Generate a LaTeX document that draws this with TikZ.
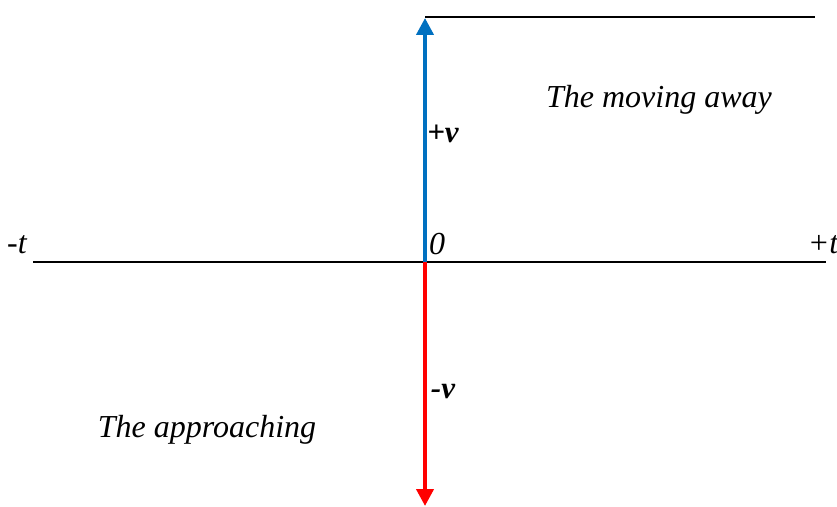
\documentclass[tikz,border=0pt]{standalone}
\usepackage{fontspec}
\setmainfont{Liberation Serif}
\usetikzlibrary{arrows.meta}
\definecolor{axblue}{RGB}{0,112,192}
\definecolor{axred}{RGB}{255,0,0}
\tikzset{
  lbl/.style={inner sep=0pt, font=\fontsize{32}{36}\selectfont\itshape},
  vlbl/.style={inner sep=0pt, font=\fontsize{31}{35}\selectfont\bfseries\itshape},
  axisline/.style={line width=2pt, black},
  varrow/.style={line width=4pt, -{Triangle[width=17pt,length=17pt]}}
}
\begin{document}
\begin{tikzpicture}[x=1pt,y=1pt]
\useasboundingbox (0,0) rectangle (837,506);
\coordinate (L) at (33,244);
\coordinate (R) at (826,244);
\coordinate (O) at (425,244);
\coordinate (T) at (425,488);
\coordinate (B) at (425,0);
\coordinate (TR) at (815,489);
\coordinate (TL) at (425,489);
\draw[axisline] (L) -- (R);
\draw[axisline] (TL) -- (TR);
\draw[varrow, axblue] (O) -- (T);
\draw[varrow, axred] (O) -- (B);
\node[lbl] (mt) at (17,261) {-t};
\node[lbl] (pt) at (823,261) {+t};
\node[lbl] (zero) at (437,262) {0};
\node[vlbl] (pv) at (443,372) {+v};
\node[vlbl] (mv) at (443,114) {-v};
\node[lbl] (away) at (659,406) {The moving away};
\node[lbl] (appr) at (207,76) {The approaching};
\end{tikzpicture}
\end{document}
